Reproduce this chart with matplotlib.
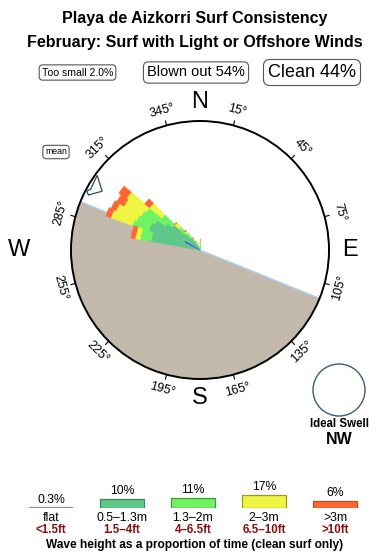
import numpy as np
import matplotlib
matplotlib.use("Agg")
import matplotlib.pyplot as plt
from matplotlib.patches import Ellipse

plt.rcParams['font.family'] = ['Liberation Sans', 'DejaVu Sans']

# ---------------- data ----------------
title1 = "Playa de Aizkorri Surf Consistency"
title2 = "February: Surf with Light or Offshore Winds"
too_small_pct = 2.0
blown_out_pct = 54
clean_pct = 44

# rose: direction bins (deg, centre) and stacked segment lengths per wave class
bin_dirs = [282.5, 287.5, 292.5, 297.5, 302.5, 307.5, 312.5, 317.5, 322.5, 327.5, 332.5, 2.5]
seg_05_13 = [50, 50, 55, 55, 52, 42, 36, 22, 15, 10, 6, 0]
seg_13_2 = [11, 11, 17, 15, 16, 24, 14, 8, 6, 4, 3, 8]
seg_2_3 = [5, 5, 23, 23, 20, 24, 16, 6, 3, 0, 0, 2]
seg_gt3 = [4, 4, 5, 5, 8, 9, 6, 0, 0, 0, 0, 0]
flat_dir = 299
flat_len = 17
bin_width = 5.0

land_from = 112   # land sector (deg) clockwise from -> to
land_to = 292
mean_dir = 301
ideal_swell = "NW"

compass_ticks = [15, 45, 75, 105, 135, 165, 195, 225, 255, 285, 315, 345]

legend_pcts = [0.3, 10, 11, 17, 6]
legend_pct_labels = ["0.3%", "10%", "11%", "17%", "6%"]
legend_m = ["flat", "0.5\u20131.3m", "1.3\u20132m", "2\u20133m", ">3m"]
legend_ft = ["<1.5ft", "1.5\u20134ft", "4\u20136.5ft", "6.5\u201310ft", ">10ft"]

# ---------------- style ----------------
col_dg = '#5ec88a'
col_lg = '#6ff263'
col_yl = '#eef542'
col_og = '#ff6633'
edge_cols = ['#3b8a5c', '#3d9e38', '#9a9a20', '#c8461e']
col_land = '#c3b8ac'
col_shore = '#a9d0ee'
col_red = '#8b0d0d'

W, H = 390, 560
fig = plt.figure(figsize=(W / 100, H / 100), dpi=100)

def fx(x):
    return x / W

def fy(y):
    return 1 - y / H

fig.text(fx(195), fy(18), title1, ha='center', va='center', fontsize=11.5, weight='bold')
fig.text(fx(195), fy(42), title2, ha='center', va='center', fontsize=11.5, weight='bold')

box = dict(boxstyle='round,pad=0.25,rounding_size=0.35', fc='white', ec='#555555', lw=0.8)
fig.text(fx(77.5), fy(72.5), f"Too small {too_small_pct:.1f}%", ha='center', va='center', fontsize=7.6, bbox=box)
fig.text(fx(196), fy(72.5), f"Blown out {blown_out_pct}%", ha='center', va='center', fontsize=10.5, bbox=box)
fig.text(fx(312), fy(72.5), f"Clean {clean_pct}%", ha='center', va='center', fontsize=13, bbox=box)
fig.text(fx(56), fy(152), "mean", ha='center', va='center', fontsize=6.3, bbox=box)

# ---------------- rose ----------------
cx, cy, Rpx = 200, 250, 129
ax = fig.add_axes([fx(cx - Rpx), fy(cy + Rpx), 2 * Rpx / W, 2 * Rpx / H], projection='polar')
ax.set_theta_zero_location('N')
ax.set_theta_direction(-1)
RMAX = 129
ax.set_ylim(0, RMAX)
ax.set_xticks([])
ax.set_yticks([])
ax.grid(False)
ax.spines['polar'].set_linewidth(1.4)
ax.spines['polar'].set_color('black')

# land sector
th_land = np.deg2rad(np.linspace(land_from, land_to, 200))
ax.fill_between(th_land, 0, RMAX, color=col_land, lw=0, zorder=1)
for b in (land_from, land_to):
    ax.plot([np.deg2rad(b)] * 2, [0, RMAX], color=col_shore, lw=1.0, zorder=2)

# petals
th = np.deg2rad(bin_dirs)
wd = np.deg2rad(bin_width)
bottom = np.zeros(len(bin_dirs))
for seg, c in zip([seg_05_13, seg_13_2, seg_2_3, seg_gt3], [col_dg, col_lg, col_yl, col_og]):
    seg = np.array(seg, float)
    ax.bar(th, seg, width=wd, bottom=bottom, color=c, edgecolor=c, lw=0.6, zorder=3, align='center')
    bottom += seg
ax.bar([np.deg2rad(flat_dir)], [flat_len], width=np.deg2rad(2.5), bottom=0, color='#5a4cf0',
       edgecolor='#5a4cf0', lw=0.5, zorder=4)

# mean arrow (arrow head pointing to centre)
arr_t = np.deg2rad([mean_dir + 5, mean_dir, mean_dir - 4.8, mean_dir - 3.4, mean_dir - 2])
arr_r = np.array([0.985, 0.885, 0.965, 0.99, 0.97]) * RMAX
ax.fill(arr_t, arr_r, facecolor='white', edgecolor='#2c4a66', lw=0.9, zorder=5)

# compass ticks and labels
for b in compass_ticks:
    t = np.deg2rad(b)
    ax.plot([t, t], [RMAX, RMAX * 1.035], color='black', lw=0.8, clip_on=False, zorder=6)
    rot = ((-b + 90) % 180) - 90
    ax.text(t, RMAX * 1.12, f"{b}\u00b0", rotation=rot, rotation_mode='anchor',
            ha='center', va='center', fontsize=9)
for lab, b, rr in [("N", 0, 1.145), ("E", 90, 1.16), ("S", 180, 1.15), ("W", 270, 1.40)]:
    ax.text(np.deg2rad(b), RMAX * rr, lab, ha='center', va='center', fontsize=17)

# ideal swell
fig.patches.append(Ellipse((fx(339), fy(390)), 52 / W, 52 / H, transform=fig.transFigure,
                           fill=False, ec='#3b5a7a', lw=1.0))
fig.text(fx(339), fy(424), "Ideal Swell", ha='center', va='center', fontsize=8.3, weight='bold')
fig.text(fx(339), fy(440), ideal_swell, ha='center', va='center', fontsize=11.5, weight='bold')

# ---------------- legend ----------------
floor = 5
lax = fig.add_axes([fx(15.5), fy(508), 355 / W, 30 / H])
lax.set_xlim(-0.5, 4.5)
lax.set_ylim(-floor, 45)
lax.axis('off')
xs = np.arange(len(legend_pcts))
bw = 0.62
lax.hlines(-floor, xs[0] - bw / 2, xs[0] + bw / 2, color='#8e8ea6', lw=1.6)
lcols = [col_dg, col_lg, col_yl, col_og]
for i in range(1, len(legend_pcts)):
    lax.bar(xs[i], legend_pcts[i] + floor, bottom=-floor, width=bw, color=lcols[i - 1],
            edgecolor=edge_cols[i - 1], lw=0.9)
for i in range(len(legend_pcts)):
    top = -floor if i == 0 else legend_pcts[i]
    lax.annotate(legend_pct_labels[i], (xs[i], top), xytext=(0, 1.5), textcoords='offset points',
                 ha='center', va='bottom', fontsize=8.8, annotation_clip=False)
    lax.annotate(legend_m[i], (xs[i], -floor), xytext=(0, -3), textcoords='offset points',
                 ha='center', va='top', fontsize=8.8, annotation_clip=False)
    lax.annotate(legend_ft[i], (xs[i], -floor), xytext=(0, -11.5), textcoords='offset points',
                 ha='center', va='top', fontsize=8.3, weight='bold', color=col_red, annotation_clip=False)

fig.text(fx(195), fy(545), "Wave height as a proportion of time (clean surf only)",
         ha='center', va='center', fontsize=8.6, weight='bold')

fig.savefig("out.png", dpi=100)
